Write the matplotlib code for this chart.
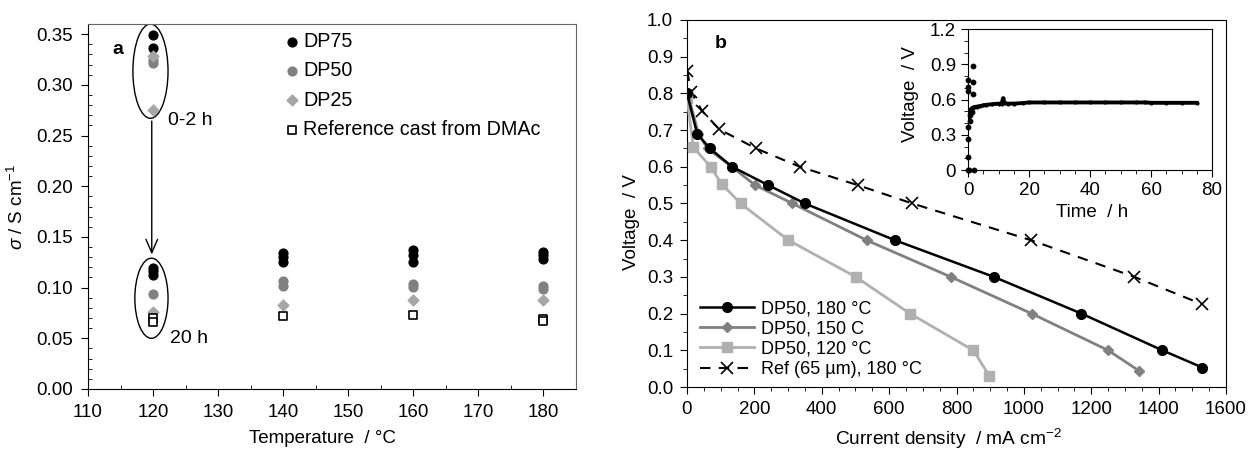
import matplotlib
matplotlib.use('Agg')
import matplotlib.pyplot as plt
from matplotlib.patches import Ellipse
from matplotlib.ticker import MultipleLocator

plt.rcParams['font.family'] = ['Liberation Sans', 'DejaVu Sans']
plt.rcParams['mathtext.fontset'] = 'custom'
plt.rcParams['mathtext.rm'] = 'Liberation Sans'
plt.rcParams['mathtext.it'] = 'Liberation Sans:italic'
plt.rcParams['font.size'] = 12

# panel a: conductivity vs temperature
dp75_T = [120, 120, 120, 120, 120, 140, 140, 140, 160, 160, 160, 180, 180, 180]
dp75_s = [0.349, 0.336, 0.119, 0.116, 0.112, 0.134, 0.130, 0.125, 0.137, 0.132, 0.125, 0.135, 0.132, 0.128]
dp50_T = [120, 120, 120, 140, 140, 160, 160, 180, 180]
dp50_s = [0.325, 0.322, 0.094, 0.107, 0.102, 0.104, 0.101, 0.102, 0.099]
dp25_T = [120, 120, 120, 140, 160, 180]
dp25_s = [0.328, 0.275, 0.076, 0.083, 0.088, 0.088]
ref_T = [120, 120, 140, 160, 180, 180]
ref_s = [0.070, 0.066, 0.072, 0.073, 0.0695, 0.067]

# panel b: polarisation curves (current density mA cm-2, voltage V)
c180_j = [0, 30, 68, 134, 241, 350, 617, 911, 1171, 1411, 1530]
c180_v = [0.80, 0.69, 0.65, 0.60, 0.55, 0.50, 0.40, 0.30, 0.20, 0.10, 0.053]
c150_j = [2, 34, 61, 133, 202, 313, 533, 783, 1023, 1250, 1342]
c150_v = [0.80, 0.69, 0.65, 0.60, 0.55, 0.50, 0.40, 0.30, 0.20, 0.10, 0.044]
c120_j = [0, 19, 70, 103, 159, 301, 501, 662, 850, 897]
c120_v = [0.787, 0.653, 0.60, 0.553, 0.50, 0.40, 0.30, 0.20, 0.10, 0.031]
ref_j = [1, 11, 45, 96, 205, 335, 507, 669, 1021, 1328, 1528]
ref_v = [0.862, 0.805, 0.752, 0.702, 0.65, 0.60, 0.55, 0.50, 0.40, 0.30, 0.226]

# inset: durability test
start_t = [0, 0, 0, 0, 0, 0, 0, 0.3, 1.7, 1.7, 1.7, 2.0, 0.5, 0.8, 1.2]
start_v = [0.0, 0.11, 0.26, 0.37, 0.67, 0.71, 0.77, 0.0, 0.885, 0.75, 0.65, 0.0, 0.42, 0.47, 0.49]
run_t = [0.3, 0.6, 1.0, 1.5, 2, 3, 4, 5, 6, 8, 10, 11, 11.5, 12, 13, 15, 18, 20, 25, 30,
         35, 40, 45, 50, 55, 58, 60, 65, 70, 75]
run_v = [0.45, 0.50, 0.52, 0.53, 0.535, 0.54, 0.545, 0.55, 0.555, 0.56, 0.565, 0.565, 0.61, 0.57,
         0.565, 0.565, 0.57, 0.575, 0.575, 0.575, 0.575, 0.575, 0.575, 0.575, 0.575, 0.575,
         0.572, 0.572, 0.572, 0.572]

fig = plt.figure(figsize=(12.5, 4.5), dpi=100)

# ---------- panel a ----------
ax = fig.add_axes([0.0704, 0.1356, 0.3904, 0.811])
ax.scatter(dp75_T, dp75_s, s=40, color='black', zorder=3, label='DP75')
ax.scatter(dp50_T, dp50_s, s=40, color='#808080', zorder=3, label='DP50')
ax.scatter(dp25_T, dp25_s, s=30, marker='D', color='#a6a6a6', zorder=3, label='DP25')
ax.scatter(ref_T, ref_s, s=30, marker='s', facecolor='white', edgecolor='black',
           linewidth=1.2, zorder=4, label='Reference cast from DMAc')
ax.set_xlim(110, 185)
ax.set_ylim(0, 0.36)
ax.xaxis.set_major_locator(MultipleLocator(10))
ax.xaxis.set_minor_locator(MultipleLocator(5))
ax.yaxis.set_major_locator(MultipleLocator(0.05))
ax.yaxis.set_minor_locator(MultipleLocator(0.01))
ax.yaxis.set_major_formatter(plt.FormatStrFormatter('%.2f'))
ax.tick_params(which='major', direction='out', length=5, labelsize=13.5, pad=6)
ax.tick_params(which='minor', direction='in', length=3)
for side in ['top', 'right']:
    ax.spines[side].set_color('#666666')
ax.set_ylabel(r'$\sigma$ / S cm$^{-1}$', fontsize=13.5)
ax.yaxis.set_label_coords(-0.125, 0.5)
ax.set_xlabel('Temperature  / °C', fontsize=13.5, va='top')
ax.xaxis.set_label_coords(0.48, -0.112)
ax.add_patch(Ellipse((119.6, 0.3135), 5.4, 0.093, fill=False, edgecolor='black', lw=1))
ax.add_patch(Ellipse((119.75, 0.0895), 5.1, 0.079, fill=False, edgecolor='black', lw=1))
ax.annotate('', xy=(119.8, 0.130), xytext=(119.8, 0.267),
            arrowprops=dict(arrowstyle='->,head_width=0.35,head_length=0.8', color='black', lw=1))
ax.text(122.3, 0.2645, '0-2 h', fontsize=14, va='center')
ax.text(122.6, 0.050, '20 h', fontsize=14, va='center')
ax.text(113.7, 0.335, 'a', fontsize=14, fontweight='bold', va='center')
ax.legend(loc='upper left', bbox_to_anchor=(0.405, 0.978), frameon=False, fontsize=14.2,
          handlelength=0.6, handletextpad=0.3, labelspacing=0.52, borderpad=0, borderaxespad=0)

# ---------- panel b ----------
bx = fig.add_axes([0.5496, 0.14, 0.4312, 0.8156])
bx.plot(ref_j, ref_v, color='black', ls=(0, (5, 4)), lw=1.5, marker='x', ms=9, mew=1.2,
        label='Ref (65 µm), 180 °C', zorder=2)
bx.plot(c120_j, c120_v, color='#b0b0b0', lw=2, marker='s', ms=7,
        label='DP50, 120 °C', zorder=3)
bx.plot(c150_j, c150_v, color='#808080', lw=2, marker='D', ms=5.5,
        label='DP50, 150 C', zorder=4)
bx.plot(c180_j, c180_v, color='black', lw=1.8, marker='o', ms=7,
        label='DP50, 180 °C', zorder=5)
bx.set_xlim(0, 1600)
bx.set_ylim(0, 1.0)
bx.xaxis.set_major_locator(MultipleLocator(200))
bx.xaxis.set_minor_locator(MultipleLocator(50))
bx.yaxis.set_major_locator(MultipleLocator(0.1))
bx.yaxis.set_minor_locator(MultipleLocator(0.05))
bx.yaxis.set_major_formatter(plt.FormatStrFormatter('%.1f'))
bx.tick_params(which='major', direction='out', length=5, labelsize=13.5, pad=5)
bx.tick_params(which='minor', direction='out', length=3)
bx.set_ylabel('Voltage  / V', fontsize=13.5)
bx.yaxis.set_label_coords(-0.088, 0.45)
bx.set_xlabel('Current density  / mA cm$^{-2}$', fontsize=13.8, va='top')
bx.xaxis.set_label_coords(0.485, -0.108)
bx.text(83, 0.935, 'b', fontsize=14, fontweight='bold', va='center')
h, l = bx.get_legend_handles_labels()
order = [3, 2, 1, 0]
bx.legend([h[i] for i in order], [l[i] for i in order], loc='lower left',
          bbox_to_anchor=(0.024, 0.025), frameon=False, fontsize=13,
          handlelength=3.0, handletextpad=0.4, labelspacing=0.18, borderpad=0, borderaxespad=0)

# ---------- inset ----------
ix = fig.add_axes([0.7744, 0.6222, 0.1952, 0.3133])
ix.plot(run_t, run_v, color='black', lw=2.8, marker='.', ms=4, zorder=3)
ix.scatter(start_t, start_v, s=10, color='black', zorder=4, clip_on=False)
ix.set_xlim(0, 80)
ix.set_ylim(0, 1.2)
ix.xaxis.set_major_locator(MultipleLocator(20))
ix.xaxis.set_minor_locator(MultipleLocator(5))
ix.yaxis.set_minor_locator(MultipleLocator(0.1))
ix.set_yticks([0, 0.3, 0.6, 0.9, 1.2])
ix.set_yticklabels(['0', '0.3', '0.6', '0.9', '1.2'])
ix.tick_params(which='major', direction='out', length=5, labelsize=13.5)
ix.tick_params(which='minor', direction='out', length=3)
ix.set_ylabel('Voltage  / V', fontsize=13.5)
ix.yaxis.set_label_coords(-0.2, 0.54)
ix.set_xlabel('Time  / h', fontsize=13.5, va='top')
ix.xaxis.set_label_coords(0.51, -0.24)

fig.savefig('out.png', dpi=100)
